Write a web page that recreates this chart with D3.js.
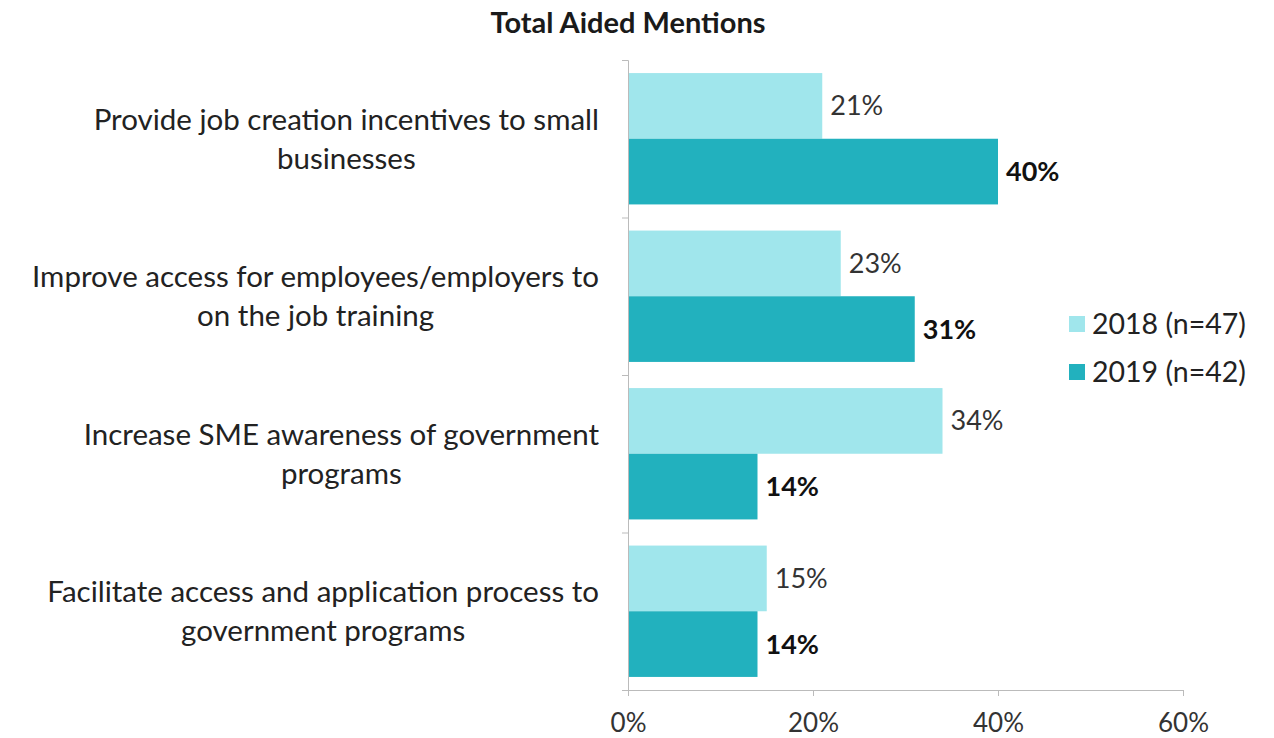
<!DOCTYPE html>
<html><head><meta charset="utf-8">
<script src="https://cdn.jsdelivr.net/npm/d3@7"></script>
<style>body{margin:0;background:#fff}svg{display:block}text{font-family:Lato,"Open Sans",sans-serif}</style>
</head><body><svg id="c" width="1274" height="738"></svg>
<script>
const title = "Total Aided Mentions";
const categories = [
  ["Provide job creation incentives to small", "businesses"],
  ["Improve access for employees/employers to", "on the job training"],
  ["Increase SME awareness of government", "programs"],
  ["Facilitate access and application process to", "government programs"]
];
const seriesNames = ["2018 (n=47)", "2019 (n=42)"];
const values2018 = [21, 23, 34, 15];
const values2019 = [40, 31, 14, 14];
const xTicks = [0, 20, 40, 60];
const colors = ["#a0e6ec", "#22b1be"];

const svg = d3.select("#c");
const pLeft = 628, pRight = 1183, pTop = 60, pBottom = 690;
const x = d3.scaleLinear().domain([0, 60]).range([pLeft, pRight]);
const y = d3.scaleBand().domain(d3.range(categories.length)).range([pTop, pBottom]).paddingInner(0.166).paddingOuter(0.083);
const sub = d3.scaleBand().domain([0, 1]).range([0, y.bandwidth()]);
const series = [values2018, values2019];

// title
svg.append("text").attr("x", 628).attr("y", 23).attr("dy", "0.35em").attr("text-anchor", "middle")
  .attr("font-weight", "bold").attr("font-size", 29).attr("fill", "#1a1a1a").text(title);

// bars
series.forEach((vals, si) => {
  svg.append("g").selectAll("rect").data(vals).join("rect")
    .attr("x", x(0)).attr("y", (d, i) => y(i) + sub(si))
    .attr("width", d => x(d) - x(0)).attr("height", sub.bandwidth())
    .attr("fill", colors[si]);
  svg.append("g").selectAll("text").data(vals).join("text")
    .attr("x", d => x(d) + 8).attr("y", (d, i) => y(i) + sub(si) + sub.bandwidth() / 2)
    .attr("dy", "0.35em").attr("font-size", 27)
    .attr("font-weight", si === 1 ? "bold" : "normal")
    .attr("fill", si === 1 ? "#111" : "#333")
    .text(d => d + "%");
});

// x axis
const xAxis = svg.append("g").attr("transform", `translate(0,${pBottom})`)
  .call(d3.axisBottom(x).tickValues(xTicks).tickSize(6).tickFormat(d => d + "%"));
xAxis.select(".domain").attr("stroke", "#bbb");
xAxis.selectAll(".tick line").attr("stroke", "#bbb");
xAxis.selectAll(".tick text").attr("font-size", 26).attr("fill", "#333").attr("dy", 0).attr("y", 42)
  .style("font-family", "Lato,'Open Sans',sans-serif");

// y axis (category boundaries)
const yb = d3.scaleLinear().domain([0, categories.length]).range([pTop, pBottom]);
const yAxis = svg.append("g").attr("transform", `translate(${pLeft},0)`)
  .call(d3.axisLeft(yb).tickValues(d3.range(categories.length + 1)).tickSize(6).tickFormat(""));
yAxis.select(".domain").attr("stroke", "#bbb");
yAxis.selectAll(".tick line").attr("stroke", "#bbb");

// category labels (block right-aligned at 598, lines centred in block)
categories.forEach((lines, i) => {
  const g = svg.append("g");
  const t1 = g.append("text").attr("font-size", 29.5).attr("fill", "#222").text(lines[0]);
  const w1 = t1.node().getComputedTextLength();
  const cx = 599 - w1 / 2;
  const cy = y(i) + y.bandwidth() / 2;
  t1.attr("x", cx).attr("y", cy - 19.5).attr("dy", "0.35em").attr("text-anchor", "middle");
  g.append("text").attr("font-size", 29.5).attr("fill", "#222").text(lines[1])
    .attr("x", cx).attr("y", cy + 19.5).attr("dy", "0.35em").attr("text-anchor", "middle");
});

// legend
const lg = svg.append("g").attr("transform", "translate(1069,324)");
seriesNames.forEach((n, i) => {
  lg.append("rect").attr("x", 0).attr("y", i * 48 - 8).attr("width", 16).attr("height", 16).attr("fill", colors[i]);
  lg.append("text").attr("x", 23).attr("y", i * 48).attr("dy", "0.35em").attr("font-size", 28.5).attr("fill", "#222").text(n);
});
</script></body></html>
